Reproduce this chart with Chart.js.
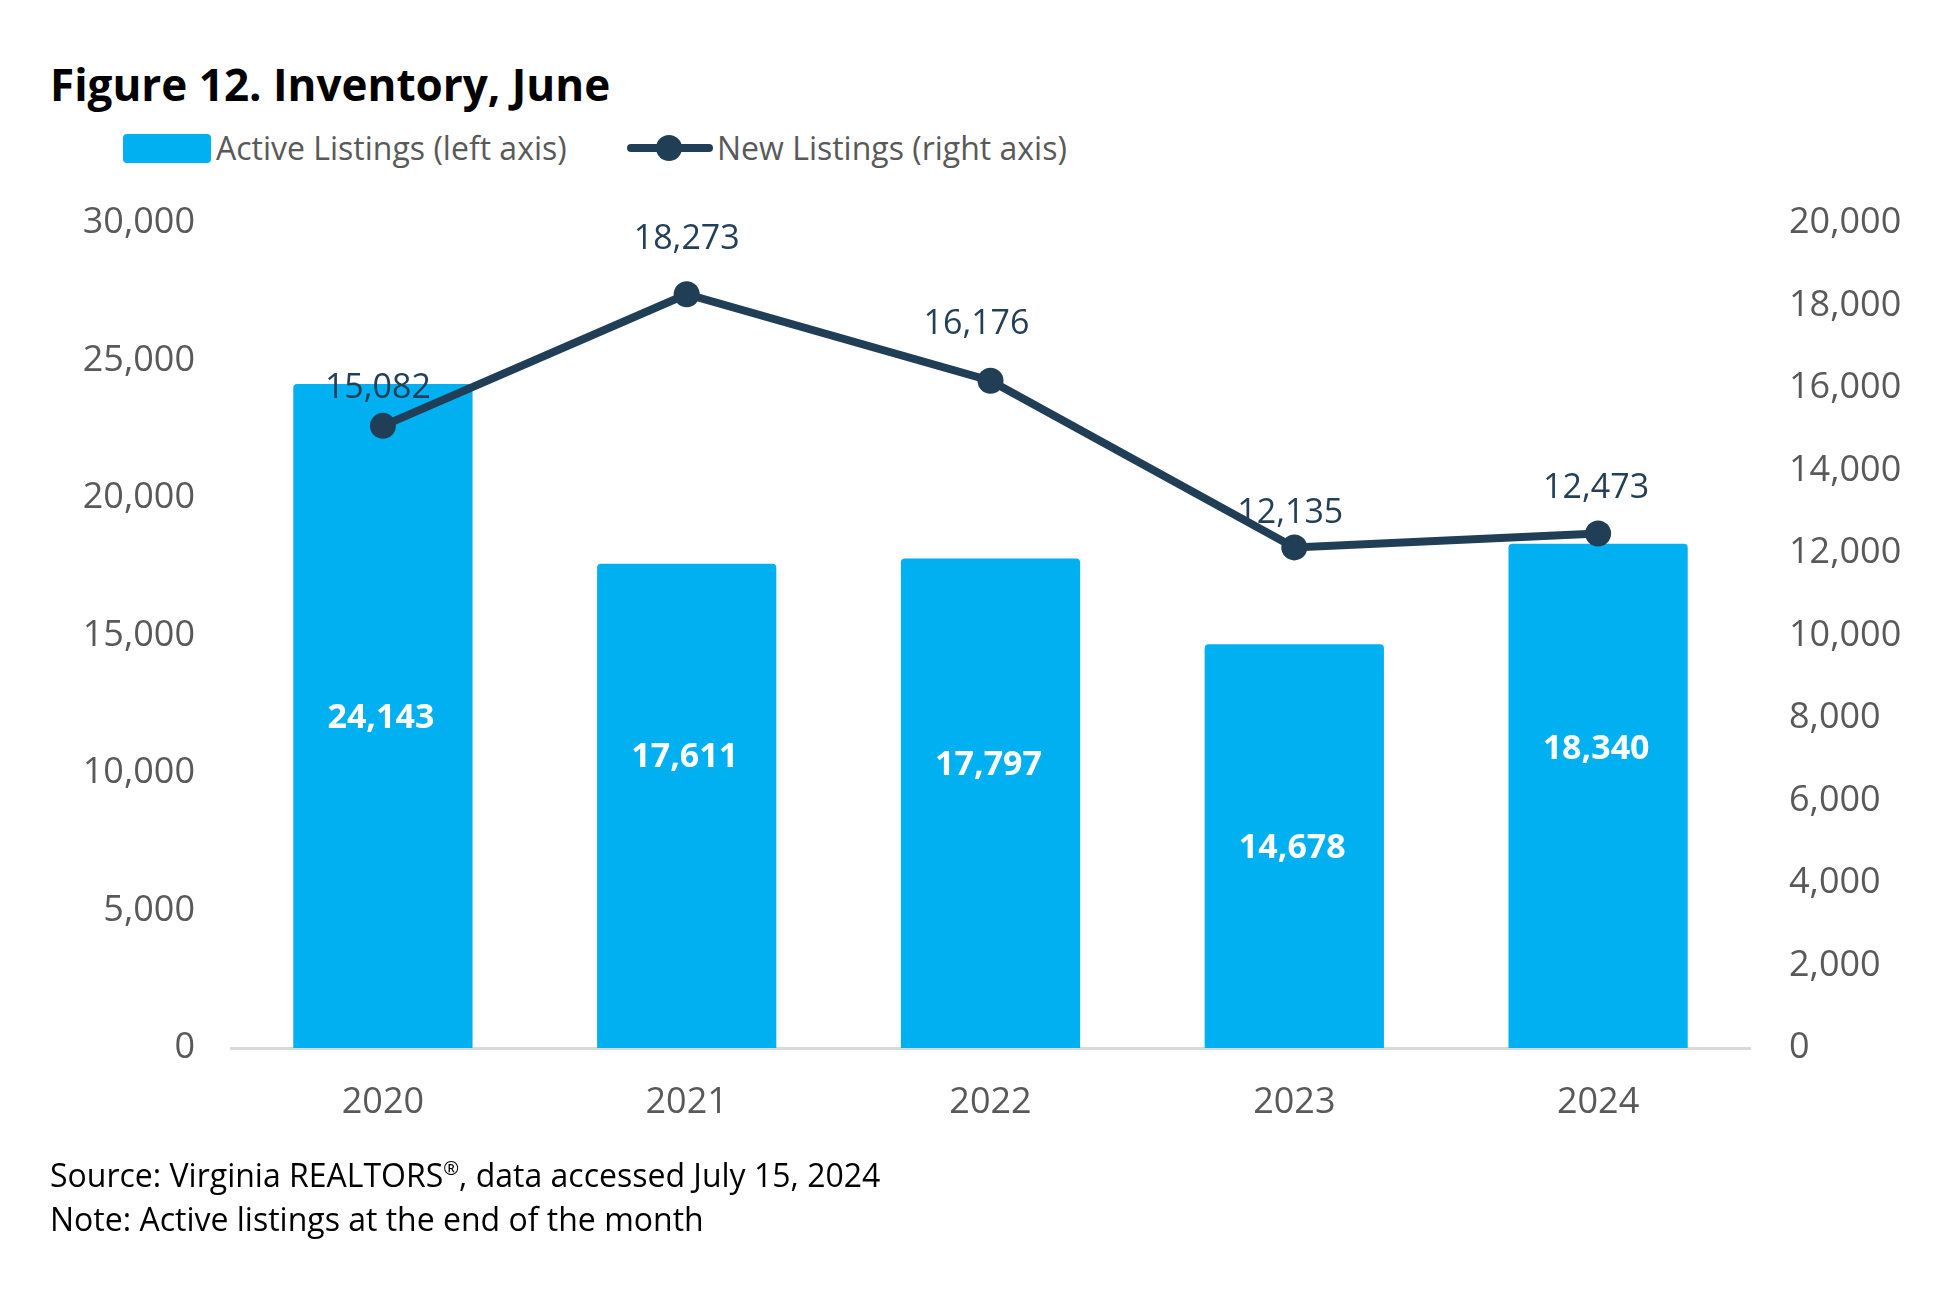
<!DOCTYPE html>
<html>
<head>
<meta charset="utf-8">
<script src="https://cdn.jsdelivr.net/npm/chart.js@4"></script>
<style>
    html, body { margin: 0; padding: 0; background: #fff; }
    body { width: 1956px; height: 1299px; position: relative; overflow: hidden; font-family: "Open Sans", sans-serif; }
    #chart { position: absolute; left: 0; top: 0; }
    .txt { position: absolute; white-space: nowrap; }
    #title { left: 50px; top: 56px; font-size: 44px; line-height: 56px; font-weight: bold; color: #000; }
    .legend-text { top: 128px; font-size: 32px; line-height: 40px; color: #595959; }
    #swatchBar { position: absolute; left: 123px; top: 134px; width: 88px; height: 29px; border-radius: 4px; background: #00B0F0; }
    #swatchLine { position: absolute; left: 627px; top: 144px; width: 86px; height: 8px; border-radius: 4px; background: #203F57; }
    #swatchDot { position: absolute; left: 656px; top: 135px; width: 26px; height: 26px; border-radius: 50%; background: #203F57; }
    .foot { left: 50px; font-size: 32px; line-height: 40px; color: #000; }
</style>
</head>
<body>
<div id="title" class="txt">Figure 12. Inventory, June</div>
<div id="swatchBar"></div>
<div class="txt legend-text" style="left:216px">Active Listings (left axis)</div>
<div id="swatchLine"></div>
<div id="swatchDot"></div>
<div class="txt legend-text" style="left:717px">New Listings (right axis)</div>
<canvas id="chart" width="1956" height="1299"></canvas>
<div class="txt foot" style="top:1155px">Source: Virginia REALTORS<sup style="font-size:19px;line-height:0">®</sup>, data accessed July 15, 2024</div>
<div class="txt foot" style="top:1199px">Note: Active listings at the end of the month</div>

<script>
// Data
const years = ['2020', '2021', '2022', '2023', '2024'];
const activeListings = [24143, 17611, 17797, 14678, 18340];
const newListings = [15082, 18273, 16176, 12135, 12473];
const leftTicks = [0, 5000, 10000, 15000, 20000, 25000, 30000];
const rightTicks = [0, 2000, 4000, 6000, 8000, 10000, 12000, 14000, 16000, 18000, 20000];

const barColor = '#00B0F0';
const lineColor = '#203F57';
const tickColor = '#595959';

function fmt(v) {
    return v.toLocaleString('en-US');
}

// Value labels: white bold inside the bars, dark above the points.
// The original places them by hand, so each label has its own anchor.
const valueLabels = {
    id: 'valueLabels',
    afterDatasetsDraw(chart, args, opts) {
        const ctx = chart.ctx;
        const yLeft = chart.scales.y;
        ctx.save();
        ctx.textAlign = 'center';
        ctx.textBaseline = 'middle';

        chart.getDatasetMeta(0).data.forEach((bar, i) => {
            ctx.font = 'bold 34px "Open Sans"';
            ctx.fillStyle = '#ffffff';
            ctx.fillText(fmt(activeListings[i]), bar.x - 2, yLeft.getPixelForValue(opts.barAnchor[i]));
        });

        chart.getDatasetMeta(1).data.forEach((pt, i) => {
            ctx.font = '34px "Open Sans"';
            ctx.fillStyle = '#243F58';
            ctx.fillText(fmt(newListings[i]), pt.x + opts.pointDx[i], pt.y + opts.pointDy[i]);
        });
        ctx.restore();
    }
};

new Chart(document.getElementById('chart'), {
    data: {
        labels: years,
        datasets: [{
            type: 'bar',
            label: 'Active Listings (left axis)',
            data: activeListings,
            backgroundColor: barColor,
            borderRadius: 4,
            borderSkipped: 'bottom',
            categoryPercentage: 1,
            barPercentage: 0.59,
            yAxisID: 'y',
            order: 2
        }, {
            type: 'line',
            label: 'New Listings (right axis)',
            data: newListings,
            borderColor: lineColor,
            backgroundColor: lineColor,
            borderWidth: 8,
            pointRadius: 13,
            pointBackgroundColor: lineColor,
            pointBorderWidth: 0,
            tension: 0,
            yAxisID: 'y1',
            order: 1
        }]
    },
    options: {
        responsive: false,
        animation: false,
        devicePixelRatio: 1,
        layout: { padding: { top: 223, left: 0, right: 0, bottom: 0 } },
        plugins: {
            legend: { display: false },
            tooltip: { enabled: false },
            valueLabels: {
                barAnchor: [12000, 10560, 10280, 7250, 10870],
                pointDx: [-5, 0, -14, -4, -2],
                pointDy: [-38, -55, -56, -34, -45]
            }
        },
        scales: {
            x: {
                grid: { display: false },
                border: { display: true, color: '#D9D9D9', width: 3 },
                ticks: { color: tickColor, font: { family: 'Open Sans', size: 36 }, padding: 25 },
                afterFit: scale => { scale.height = 1299 - 1048; }
            },
            y: {
                position: 'left',
                min: 0,
                max: 30000,
                grid: { display: false },
                border: { display: false },
                afterBuildTicks: scale => { scale.ticks = leftTicks.map(v => ({ value: v })); },
                ticks: { color: tickColor, font: { family: 'Open Sans', size: 36 }, padding: 28, callback: v => fmt(v) },
                afterFit: scale => { scale.width = 231; }
            },
            y1: {
                position: 'right',
                min: 0,
                max: 20000,
                grid: { display: false },
                border: { display: false },
                afterBuildTicks: scale => { scale.ticks = rightTicks.map(v => ({ value: v })); },
                ticks: { color: tickColor, font: { family: 'Open Sans', size: 36 }, padding: 31, callback: v => fmt(v) },
                afterFit: scale => { scale.width = 1956 - 1750; }
            }
        }
    },
    plugins: [valueLabels]
});
</script>
</body>
</html>
